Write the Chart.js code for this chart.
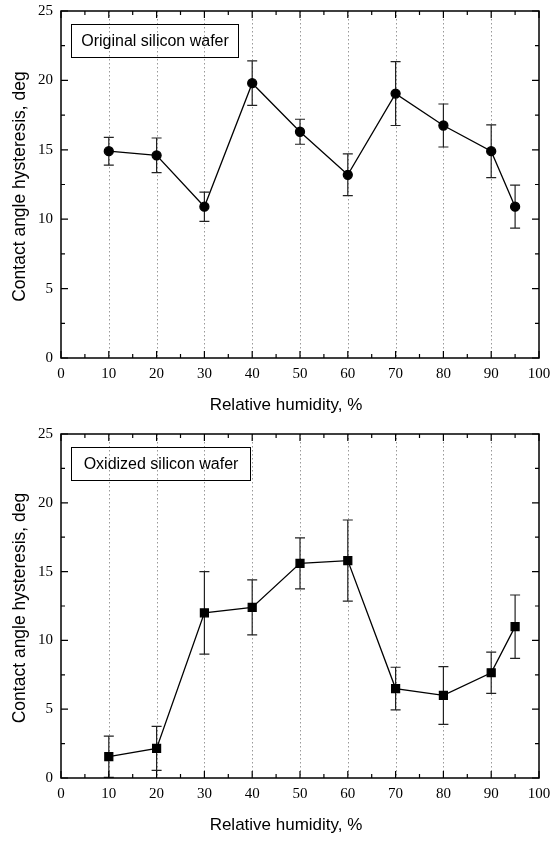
<!DOCTYPE html>
<html lang="en">
<head>
  <meta charset="UTF-8" />
  <title>Contact angle hysteresis vs relative humidity</title>
  <script src="https://cdn.jsdelivr.net/npm/chart.js"></script>
  <style>
    body {
      margin: 0;
      padding: 0;
      background: #ffffff;
    }
    .panel {
      position: absolute;
      left: 0;
    }
    #topPanel { top: 0; }
    #bottomPanel { top: 423px; }
  </style>
</head>
<body>
  <div class="panel" id="topPanel"><canvas id="originalChart" width="550" height="423"></canvas></div>
  <div class="panel" id="bottomPanel"><canvas id="oxidizedChart" width="550" height="420"></canvas></div>

  <script>
    // data
    const humidity = [10, 20, 30, 40, 50, 60, 70, 80, 90, 95];
    const originalHyst = [14.9, 14.6, 10.9, 19.8, 16.3, 13.2, 19.05, 16.75, 14.9, 10.9];
    const originalErr = [1.0, 1.25, 1.05, 1.6, 0.9, 1.5, 2.3, 1.55, 1.9, 1.55];
    const oxidizedHyst = [1.55, 2.15, 12.0, 12.4, 15.6, 15.8, 6.5, 6.0, 7.65, 11.0];
    const oxidizedErr = [1.5, 1.6, 3.0, 2.0, 1.85, 2.95, 1.55, 2.1, 1.5, 2.3];

    // axis ticks
    const xTicks = [0, 10, 20, 30, 40, 50, 60, 70, 80, 90, 100];
    const xMinorTicks = [5, 15, 25, 35, 45, 55, 65, 75, 85, 95];
    const xGridLines = [10, 20, 30, 40, 50, 60, 70, 80, 90];
    const yTicks = [0, 5, 10, 15, 20, 25];
    const yMinorTicks = [2.5, 7.5, 12.5, 17.5, 22.5];

    const xTitle = 'Relative humidity, %';
    const yTitle = 'Contact angle hysteresis, deg';

    // frame, inward ticks, dotted grid, error bars, label box, axis titles
    const decorations = {
      id: 'decorations',
      beforeDatasetsDraw(chart, args, opts) {
        const ctx = chart.ctx;
        const area = chart.chartArea;
        const x = chart.scales.x, y = chart.scales.y;
        ctx.save();
        // dotted vertical lines
        ctx.strokeStyle = '#999999';
        ctx.lineWidth = 1;
        ctx.setLineDash([1.5, 2.5]);
        xGridLines.forEach(v => {
          const px = Math.round(x.getPixelForValue(v)) + 0.5;
          ctx.beginPath();
          ctx.moveTo(px, area.top);
          ctx.lineTo(px, area.bottom);
          ctx.stroke();
        });
        ctx.setLineDash([]);
        // error bars
        const ds = chart.data.datasets[0];
        ctx.strokeStyle = '#222222';
        ctx.lineWidth = 1.2;
        ds.data.forEach((pt, i) => {
          const px = x.getPixelForValue(pt.x);
          const err = opts.errors[i];
          const lo = Math.max(pt.y - err, 0);
          const pTop = y.getPixelForValue(pt.y + err);
          const pBot = y.getPixelForValue(lo);
          ctx.beginPath();
          ctx.moveTo(px, pTop);
          ctx.lineTo(px, pBot);
          ctx.moveTo(px - 5, pTop);
          ctx.lineTo(px + 5, pTop);
          if (lo > 0) {
            ctx.moveTo(px - 5, pBot);
            ctx.lineTo(px + 5, pBot);
          }
          ctx.stroke();
        });
        ctx.restore();
      },
      afterDraw(chart, args, opts) {
        const ctx = chart.ctx;
        const area = chart.chartArea;
        const x = chart.scales.x, y = chart.scales.y;
        ctx.save();
        ctx.strokeStyle = '#000000';
        ctx.lineWidth = 1.5;
        ctx.strokeRect(area.left, area.top, area.right - area.left, area.bottom - area.top);
        ctx.lineWidth = 1.2;
        ctx.beginPath();
        const tickX = (list, len) => list.forEach(v => {
          const px = x.getPixelForValue(v);
          ctx.moveTo(px, area.bottom);
          ctx.lineTo(px, area.bottom - len);
          ctx.moveTo(px, area.top);
          ctx.lineTo(px, area.top + len);
        });
        const tickY = (list, len) => list.forEach(v => {
          const py = y.getPixelForValue(v);
          ctx.moveTo(area.left, py);
          ctx.lineTo(area.left + len, py);
          ctx.moveTo(area.right, py);
          ctx.lineTo(area.right - len, py);
        });
        tickX(xTicks, 7);
        tickX(xMinorTicks, 4);
        tickY(yTicks, 7);
        tickY(yMinorTicks, 4);
        ctx.stroke();

        // label box
        ctx.lineWidth = 1;
        const bx = area.left + 10.5, by = area.top + 13.5;
        ctx.strokeRect(bx, by, opts.boxWidth, 33);
        ctx.fillStyle = '#000000';
        ctx.font = '16px "Liberation Sans", Arial, sans-serif';
        ctx.textAlign = 'center';
        ctx.textBaseline = 'middle';
        ctx.fillText(opts.label, bx + opts.boxWidth / 2, by + 17);

        // axis titles
        ctx.font = '17px "Liberation Sans", Arial, sans-serif';
        ctx.fillText(xTitle, (area.left + area.right) / 2 - 14, area.bottom + 47);
        ctx.translate(20, (area.top + area.bottom) / 2 + 2);
        ctx.rotate(-Math.PI / 2);
        ctx.font = '17.5px "Liberation Sans", Arial, sans-serif';
        ctx.fillText(yTitle, 0, 0);
        ctx.restore();
      }
    };

    const noPad = axis => {
      axis.paddingTop = 0;
      axis.paddingBottom = 0;
      axis.paddingLeft = 0;
      axis.paddingRight = 0;
    };

    function makeChart(id, values, errors, pointStyle, radius, label, boxWidth) {
      return new Chart(document.getElementById(id).getContext('2d'), {
        type: 'line',
        data: {
          labels: humidity,
          datasets: [{
            data: values,
            borderColor: '#000000',
            borderWidth: 1.3,
            backgroundColor: '#000000',
            pointBackgroundColor: '#000000',
            pointBorderColor: '#000000',
            pointStyle: pointStyle,
            pointRadius: radius,
            pointHoverRadius: radius,
            tension: 0
          }]
        },
        options: {
          responsive: false,
          animation: false,
          devicePixelRatio: 1,
          parsing: false,
          layout: { padding: { top: 11, right: 11, left: 0, bottom: 0 } },
          plugins: {
            legend: { display: false },
            tooltip: { enabled: false },
            decorations: { errors: errors, label: label, boxWidth: boxWidth }
          },
          scales: {
            x: {
              type: 'linear',
              min: 0,
              max: 100,
              grid: { display: false, drawTicks: false },
              border: { display: false },
              afterBuildTicks: axis => { axis.ticks = xTicks.map(v => ({ value: v })); },
              afterFit: axis => { axis.height = 65; noPad(axis); },
              ticks: {
                autoSkip: false,
                maxRotation: 0,
                padding: 7,
                color: '#000000',
                font: { family: '"Liberation Serif", "Times New Roman", serif', size: 15 }
              }
            },
            y: {
              min: 0,
              max: 25,
              grid: { display: false, drawTicks: false },
              border: { display: false },
              afterBuildTicks: axis => { axis.ticks = yTicks.map(v => ({ value: v })); },
              afterFit: axis => { axis.width = 61; noPad(axis); },
              ticks: {
                autoSkip: false,
                padding: 8,
                color: '#000000',
                font: { family: '"Liberation Serif", "Times New Roman", serif', size: 15 }
              }
            }
          }
        },
        plugins: [decorations]
      });
    }

    const toPoints = vals => vals.map((v, i) => ({ x: humidity[i], y: v }));

    makeChart('originalChart', toPoints(originalHyst), originalErr, 'circle', 4.5, 'Original silicon wafer', 167);
    makeChart('oxidizedChart', toPoints(oxidizedHyst), oxidizedErr, 'rect', 5.6, 'Oxidized silicon wafer', 179);
  </script>
</body>
</html>
